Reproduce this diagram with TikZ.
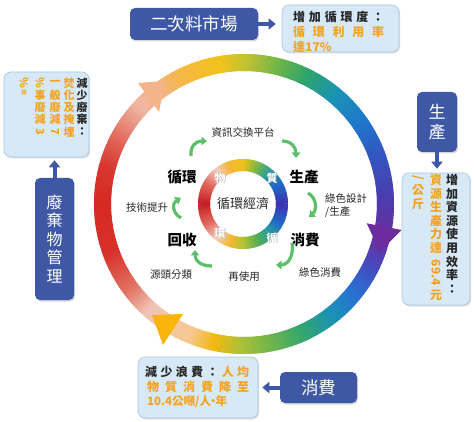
\documentclass[tikz,border=0pt]{standalone}
\usepackage{fontspec}
\setmainfont{Noto Sans CJK TC}
\usepackage{graphicx}
\usetikzlibrary{arrows.meta,shadows}
\definecolor{dblue}{HTML}{3F58A6}
\definecolor{lbox}{HTML}{D7E8F6}
\definecolor{lboxb}{HTML}{A9C7E3}
\definecolor{orng}{HTML}{F4A31F}
\definecolor{garrow}{HTML}{5CBF6A}
\definecolor{txt}{HTML}{262626}
\definecolor{yarrow}{HTML}{F9B50C}
% big ring stops
\definecolor{b01}{HTML}{D42A22}
\definecolor{b02}{HTML}{D83630}
\definecolor{b03}{HTML}{E05E50}
\definecolor{b04}{HTML}{E89080}
\definecolor{b05}{HTML}{F0B8A4}
\definecolor{b06}{HTML}{F3B48A}
\definecolor{b07}{HTML}{F6B841}
\definecolor{b08}{HTML}{F2C21C}
\definecolor{b09}{HTML}{BCC232}
\definecolor{b10}{HTML}{6DB548}
\definecolor{b11}{HTML}{2EA56C}
\definecolor{b12}{HTML}{1A93B5}
\definecolor{b13}{HTML}{1E78CC}
\definecolor{b14}{HTML}{3456C0}
\definecolor{b15}{HTML}{4A3DB0}
\definecolor{b16}{HTML}{6B2D9E}
\definecolor{b17}{HTML}{4A48BC}
\definecolor{b18}{HTML}{2A6ED2}
\definecolor{b19}{HTML}{1A90B8}
\definecolor{b20}{HTML}{34A66C}
\definecolor{b21}{HTML}{7DB846}
\definecolor{b22}{HTML}{B0C236}
\definecolor{b23}{HTML}{F3B80E}
\definecolor{b24}{HTML}{F6C890}
\definecolor{b25}{HTML}{F0C4B6}
\definecolor{b26}{HTML}{E27464}
\definecolor{b27}{HTML}{D8302A}
% inner ring stops
\definecolor{i01}{HTML}{C41E24}
\definecolor{i02}{HTML}{E26A5E}
\definecolor{i03}{HTML}{F2CDBE}
\definecolor{i04}{HTML}{F5B63A}
\definecolor{i05}{HTML}{F1C114}
\definecolor{i06}{HTML}{7FB844}
\definecolor{i07}{HTML}{2A9EA0}
\definecolor{i08}{HTML}{2168C8}
\definecolor{i09}{HTML}{3E33B0}
\definecolor{i10}{HTML}{55AE55}
\definecolor{i11}{HTML}{B5C232}
\definecolor{i12}{HTML}{F4B82C}
\newcommand\gradring[4]{%
  \begin{scope}[shift={(#1)}]
  \foreach \aa/\ca/\ab/\cb in {#4} {
    \pgfmathtruncatemacro\nn{max(1,round(abs(\ab-\aa)))}
    \foreach \k in {1,...,\nn} {
      \pgfmathsetmacro\sa{\aa+(\ab-\aa)*(\k-1)/\nn}
      \pgfmathsetmacro\ea{\aa+(\ab-\aa)*\k/\nn+0.7}
      \pgfmathtruncatemacro\pp{100*(\k-0.5)/\nn}
      \draw[line width=#3, color=\cb!\pp!\ca] (\sa:#2) arc[start angle=\sa, end angle=\ea, radius=#2];
    }
  }
  \end{scope}}
\begin{document}
\begin{tikzpicture}[x=1pt,y=-1pt,
  darkbox/.style={fill=dblue, rounded corners=5pt, text=white, inner sep=0pt,
    drop shadow={shadow xshift=1pt,shadow yshift=-1.5pt,opacity=0.3}},
  lightbox/.style={fill=lbox, draw=lboxb, line width=0.6pt, rounded corners=7pt, inner sep=0pt,
    drop shadow={shadow xshift=1.2pt,shadow yshift=-1.5pt,opacity=0.25}},
  barr/.style={draw=dblue, line width=4pt, -{Triangle[width=11pt,length=7pt]}},
  garr/.style={draw=garrow, line width=3.2pt, -{Triangle[width=8.5pt,length=5.5pt]}},
  lbl/.style={font=\fontsize{10.5}{13}\selectfont, text=txt, inner sep=0pt},
  bigw/.style={font=\bfseries\fontsize{14.5}{16}\selectfont, text=black, inner sep=0pt},
  ringch/.style={font=\bfseries\fontsize{11}{11}\selectfont, text=white, inner sep=0pt},
  vch/.style={font=\bfseries\fontsize{11}{11}\selectfont, inner sep=0pt},
  vchr/.style={font=\bfseries\fontsize{12}{12}\selectfont, inner sep=0pt},
  hline/.style={font=\bfseries\fontsize{12}{12}\selectfont, inner sep=0pt, anchor=west}
]
\useasboundingbox (0,0) rectangle (474,422);
\fill[white] (0,0) rectangle (474,422);

% ---------- big ring ----------
\gradring{244,204}{141.5}{17pt}{-180/b01/-165/b02, -165/b02/-155/b03, -155/b03/-145/b04,
  -145/b04/-137/b05, -137/b05/-128/b06, -128/b06/-115/b07, -115/b07/-100/b08,
  -100/b08/-88/b09, -88/b09/-76/b10, -76/b10/-64/b11, -64/b11/-50/b12, -50/b12/-35/b13,
  -35/b13/-20/b14, -20/b14/-3/b15, -3/b15/13/b16, 13/b16/25/b17, 25/b17/38/b18,
  38/b18/51/b19, 51/b19/66/b20, 66/b20/82/b21, 82/b21/92/b22, 92/b22/102/b23,
  102/b23/112/b24, 112/b24/132/b25, 132/b25/143/b26, 143/b26/160/b27, 160/b27/180/b01}
\fill[b06] (138,83) -- (165,81) -- (159,112) -- cycle;
\fill[b16] (366.7,223.3) -- (401.7,230) -- (380,251.7) -- cycle;
\fill[yarrow] (152,315) -- (183,314) -- (163,345) -- cycle;

% ---------- inner ring ----------
\gradring{243,204}{39}{12pt}{-180/i01/-150/i02, -150/i02/-128/i03, -128/i03/-110/i04,
  -110/i04/-90/i05, -90/i05/-70/i06, -70/i06/-50/i07, -50/i07/-28/i08, -28/i08/0/i09,
  0/i09/28/i08, 28/i08/48/i07, 48/i07/68/i10, 68/i10/90/i11, 90/i11/108/i12,
  108/i12/128/i03, 128/i03/150/i02, 150/i02/180/i01}
\foreach \t/\px/\py [count=\i] in {物/220/178, 質/272/178, 循/272/238, 環/220/233} {
  \node[ringch, text=black!40] at (\px+0.5,\py+0.5) {\t};
  \node[ringch] (rc\i) at (\px,\py) {\t};
}
\node[font=\fontsize{13}{13}\selectfont, text=txt, inner sep=0pt] (ce) at (243,204) {循環經濟};

% ---------- inner labels ----------
\node[lbl] (info) at (243,132) {資訊交換平台};
\node[bigw] (xh) at (182,177) {循環};
\node[bigw] (sc) at (304,177) {生產};
\node[bigw] (hs) at (182,240) {回收};
\node[bigw] (xf) at (305,240) {消費};
\node[lbl] (js) at (147,208) {技術提升};
\node[lbl, align=left, anchor=west, font=\fontsize{10.5}{13}\selectfont] (ls) at (325,206) {綠色設計\\/生產};
\node[lbl] (yt) at (171,275) {源頭分類};
\node[lbl] (zs) at (244,277) {再使用};
\node[lbl] (lx) at (320,273) {綠色消費};

% green arrows
\coordinate (g1a) at (191,156); \coordinate (g1b) at (207,141);
\coordinate (g2a) at (282,141); \coordinate (g2b) at (296,158);
\coordinate (g3a) at (181,218); \coordinate (g3b) at (181,198);
\coordinate (g4a) at (308,193); \coordinate (g4b) at (309,217);
\coordinate (g5a) at (292,243); \coordinate (g5b) at (276,265);
\coordinate (g6a) at (212,266); \coordinate (g6b) at (195,250);
\draw[garr] (g1a) .. controls (190,146) and (196,141) .. (g1b);
\draw[garr] (g2a) .. controls (291,141) and (296,147) .. (g2b);
\draw[garr] (g3a) .. controls (172,213) and (172,203) .. (g3b);
\draw[garr] (g4a) .. controls (317,198) and (317,210) .. (g4b);
\draw[garr] (g5a) .. controls (294,256) and (288,265) .. (g5b);
\draw[garr] (g6a) .. controls (201,266) and (195,261) .. (g6b);

% ---------- boxes ----------
\node[darkbox, minimum width=128pt, minimum height=32pt, font=\fontsize{17.5}{18}\selectfont] (mkt) at (194,24) {二次料市場};
\node[lightbox, minimum width=117pt, minimum height=47pt] (tr) at (340.5,28.5) {};
\node[lightbox, minimum width=85pt, minimum height=85pt] (lb) at (46.5,114.5) {};
\node[darkbox, minimum width=39pt, minimum height=122pt, align=center, font=\fontsize{16}{18.5}\selectfont] (waste) at (54.5,239) {廢\\棄\\物\\管\\理};
\node[darkbox, minimum width=40pt, minimum height=60pt, align=center, font=\fontsize{17}{20}\selectfont] (prod) at (437,122) {生\\產};
\node[lightbox, minimum width=68pt, minimum height=132pt] (rb) at (436,239) {};
\node[lightbox, minimum width=120pt, minimum height=61pt] (bb) at (198,387.5) {};
\node[darkbox, minimum width=77pt, minimum height=31pt, font=\fontsize{17.5}{18}\selectfont] (cons) at (318.5,387.5) {消費};

% blue arrows
\draw[barr, shorten >=6pt] (mkt.east) -- (mkt.east -| tr.west);
\draw[barr, shorten >=3pt] (waste.north) -- (waste.north |- lb.south);
\draw[barr, shorten >=4pt] (prod.south) -- (prod.south |- rb.north);
\draw[barr, shorten >=4pt] (cons.west) -- (cons.west -| bb.east);

% ---------- top right box text ----------
\node[hline, text=txt] (tr1) at (293,17) {\makebox[91pt]{增\hfill 加\hfill 循\hfill 環\hfill 度\hfill ：}};
\node[hline, text=orng] (tr2) at (293,32) {\makebox[91pt]{循\hfill 環\hfill 利\hfill 用\hfill 率}};
\node[hline, text=orng] (tr3) at (293,47) {達17\%};

% ---------- bottom box text ----------
\node[hline, text=txt] (bb1) at (145,372) {\makebox[104pt]{減\hfill 少\hfill 浪\hfill 費\hfill ：\hfill \textcolor{orng}{人}\hfill \textcolor{orng}{均}}};
\node[hline, text=orng] (bb2) at (147,387) {\makebox[102pt]{物\hfill 質\hfill 消\hfill 費\hfill 降\hfill 至}};
\node[hline, text=orng, font=\bfseries\fontsize{11.5}{12}\selectfont] (bb3) at (147,402) {10.4公噸/人\kern-3.5pt·\kern-3.5pt年};

% ---------- left box vertical text ----------
\foreach \c [count=\i] in {減,少,廢,棄,：} \node[vch, text=txt] (la\i) at (82,{83+12.2*(\i-1)}) {\c};
\foreach \c [count=\i] in {焚,化,及,掩,埋} \node[vch, text=orng] (lc\i) at (69,{83+12.2*(\i-1)}) {\c};
\foreach \c [count=\i] in {一,般,廢,減} \node[vch, text=orng] (ld\i) at (55,{83+12.2*(\i-1)}) {\c};
\node[vch, text=orng, rotate=-90] (ld5) at (55,131.8) {7};
\node[vch, text=orng, rotate=-90] (le1) at (40,83) {\%};
\foreach \c [count=\i from 2] in {事,廢,減} \node[vch, text=orng] (le\i) at (40,{83+12.2*(\i-1)}) {\c};
\node[vch, text=orng, rotate=-90] (le5) at (40,131.8) {3};
\node[vch, text=orng, rotate=-90] (lf1) at (24,83) {\%};
\node[vch, text=orng, font=\bfseries\fontsize{5.5}{6}\selectfont] (lf2) at (24,92.5) {註};

% ---------- right box vertical text ----------
\foreach \c [count=\i] in {增,加,資,源,使,用,效,率,：} \node[vchr, text=txt] (ra\i) at (452,{180+13.6*(\i-1)}) {\c};
\foreach \c [count=\i] in {資,源,生,產,力,達} \node[vchr, text=orng] (rc\i) at (436,{180+13.6*(\i-1)}) {\c};
\node[vchr, text=orng, rotate=-90] (rc7) at (436,273) {69.4};
\node[vchr, text=orng] (rc8) at (436,295) {元};
\node[vchr, text=orng, rotate=-90] (rd1) at (418,178) {/};
\node[vchr, text=orng] (rd2) at (418,190.5) {公};
\node[vchr, text=orng] (rd3) at (418,203.5) {斤};
\end{tikzpicture}
\end{document}
